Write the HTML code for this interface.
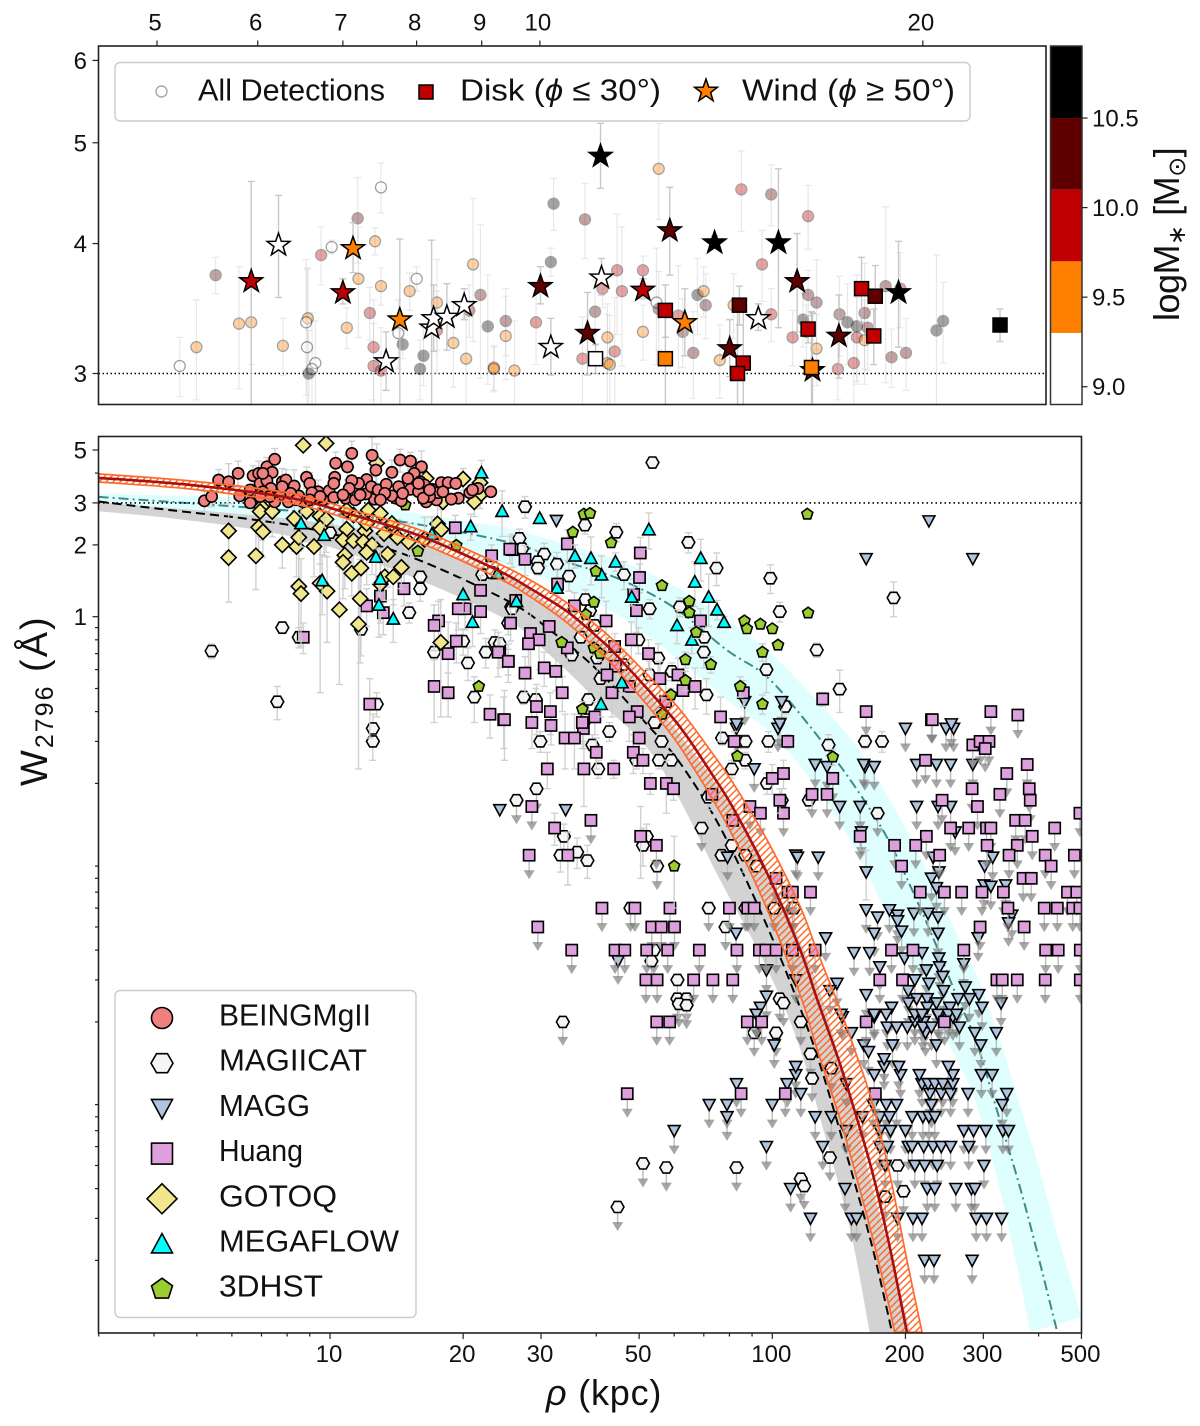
<!DOCTYPE html>
<html><head><meta charset="utf-8"><title>W2796 vs impact parameter</title>
<style>
html,body{margin:0;padding:0;background:#fff;width:1200px;height:1426px;overflow:hidden}
svg{display:block}
text{font-family:"Liberation Sans","DejaVu Sans",sans-serif;fill:#111}
</style></head>
<body>
<svg id="chart" width="1200" height="1426" viewBox="0 0 1200 1426" xmlns="http://www.w3.org/2000/svg">
<defs>
<clipPath id="clipTop"><rect x="98.5" y="46" width="947.5" height="358.5"/></clipPath>
<clipPath id="clipBot"><rect x="98.5" y="436.5" width="983" height="896.5"/></clipPath>
<pattern id="hatch" width="7" height="7" patternUnits="userSpaceOnUse"><path d="M-1 1L1 -1M0 7L7 0M6 8L8 6" stroke="#ff6a2a" stroke-width="1.5" fill="none"/></pattern>
</defs>
<g id="topPanel" clip-path="url(#clipTop)"></g>
<g id="botBack" clip-path="url(#clipBot)"></g>
<g id="botMarks" clip-path="url(#clipBot)"></g>
<g id="botFront" clip-path="url(#clipBot)"></g>
<g id="axes"></g>
<g id="cbar"></g>
<rect x="98.5" y="46" width="947.5" height="358.5" fill="none" stroke="#222" stroke-width="1.6"/>
<rect x="98.5" y="436.5" width="983" height="896.5" fill="none" stroke="#222" stroke-width="1.6"/>
<g>
<rect x="115" y="62.5" width="855" height="58.5" rx="5" fill="#fff" fill-opacity=".92" stroke="#ccc" stroke-width="1.4"/>
<circle cx="161.5" cy="91.5" r="5.5" fill="#fff" stroke="#aaa" stroke-width="1.4"/>
<text x="198" y="100.5" font-size="31" textLength="187" lengthAdjust="spacingAndGlyphs">All Detections</text>
<rect x="419" y="85" width="14" height="14" fill="#c00000" stroke="#000" stroke-width="1.5"/>
<text x="460" y="100.5" font-size="31" textLength="201" lengthAdjust="spacingAndGlyphs">Disk (<tspan font-style="italic">ϕ</tspan> ≤ 30°)</text>
<polygon id="legStar" fill="#ff8000" stroke="#000" stroke-width="1.5"/>
<text x="742" y="100.5" font-size="31" textLength="213" lengthAdjust="spacingAndGlyphs">Wind (<tspan font-style="italic">ϕ</tspan> ≥ 50°)</text>
</g>
<g id="botLegend">
<rect x="115" y="990.5" width="301" height="327" rx="5" fill="#fff" fill-opacity=".92" stroke="#ccc" stroke-width="1.4"/>
</g>
<text x="546" y="1405" font-size="36" letter-spacing=".8"><tspan font-style="italic">ρ</tspan> (kpc)</text>
<text transform="translate(47 786) rotate(-90)" font-size="38" letter-spacing="2">W<tspan font-size="25" dy="6">2796</tspan><tspan dy="-6"> (Å)</tspan></text>
<text transform="translate(1179 321) rotate(-90)" font-size="36" letter-spacing="-.5">logM<tspan font-size="24" dy="6">∗</tspan><tspan dy="-6"> [M</tspan><tspan font-size="24" dy="6">⊙</tspan><tspan dy="-6">]</tspan></text>
</svg>
<script>
/* ---------- top panel data ---------- */
const detRho=[5.21,5.37,5.56,5.8,5.93,6.28,6.57,6.55,6.56,6.66,6.62,6.58,6.73,6.86,7.19,7.42,7.5,7.2,7.5,7.05,7.35,7.4,7.4,7.5,7.74,7.8,8,7.9,8.1,8.05,8.3,8.3,8.55,8.75,8.86,8.8,8.98,9.1,9.4,9.4,9.2,9.2,9.55,9.93,10.25,10.2,10.85,10.8,11.05,11.5,11.6,11.2,11.45,11.3,11.3,11.35,12.05,12.05,12.4,12.35,12.4,12.85,12.95,13.2,13.3,13.45,13.5,13.85,14.2,14.4,15.2,14.95,15.2,15.8,16.1,16.2,16.25,16.25,16.5,16.5,17.15,17.2,17.45,17.65,17.75,17.75,18,18.1,18,18.7,19.2,18.9,19.4,20.5,20.75];
const detW=[3.05,3.18,3.73,3.35,3.36,3.19,3.39,3.36,3.18,3.07,3.03,3.0,3.9,3.97,4.23,4.02,4.53,3.7,3.64,3.32,3.43,3.18,3.05,3.02,3.28,3.2,3.7,3.6,3.12,3.03,3.51,3.3,3.21,3.1,3.82,3.45,3.57,3.33,3.37,3.26,3.04,3.03,3.02,3.36,4.37,3.84,4.22,3.1,3.44,3.77,3.6,3.62,3.15,3.25,3.07,3.06,3.77,3.29,4.72,3.51,3.46,3.41,3.29,3.14,3.57,3.6,3.49,3.09,3.49,4.51,4.46,3.82,3.42,3.25,3.38,3.29,4.25,3.57,3.51,3.17,3.03,3.42,3.36,3.07,3.33,3.25,3.43,3.32,3.23,3.64,3.62,3.11,3.14,3.3,3.37];
const detErr=[.2,.35,.15,.45,.3,.2,.4,.5,.6,.3,.4,.3,.25,.06,.4,.12,.25,.45,.15,.15,.2,.35,.3,.3,.25,.1,.1,.15,.2,.2,.35,.3,.3,.3,.6,.2,.6,.4,.25,.3,.15,.15,.35,.3,.25,.12,.35,.3,.25,.5,.55,.15,.4,.25,.35,.35,.12,.2,.5,.45,.3,.4,.25,.3,.3,.2,.25,.25,.25,.4,.3,.3,.2,.2,.2,.2,.3,.2,.35,.25,.2,.3,.3,.3,.4,.3,.4,.3,.3,.7,.3,.2,.25,.6,.3];
const detMass=[9.1,9.5,10.3,9.5,9.5,9.5,9.5,9.1,9.1,9.1,9.1,10.7,9.9,9.1,10.3,9.5,9.1,9.5,9.5,9.5,9.9,9.9,9.9,9.9,9.1,10.7,9.1,9.5,10.7,10.7,9.5,9.9,9.5,9.5,9.5,9.9,10.3,10.7,10.3,9.5,9.5,9.5,9.5,9.9,10.7,10.7,10.3,9.9,10.3,9.9,9.9,9.9,9.9,9.5,9.5,9.5,9.9,9.5,9.5,9.1,10.3,9.9,10.3,10.3,10.7,9.5,10.3,9.5,9.5,9.9,10.3,9.9,9.9,9.9,10.7,9.9,9.9,10.3,10.3,9.5,9.9,10.3,10.7,9.9,10.7,9.9,10.3,10.3,9.5,10.3,9.9,10.3,10.3,10.7,10.7];
const windRho=[6.23,5.93,7,7.13,7.76,7.57,8.22,8.25,8.45,8.72,10.01,10.2,10.9,11.16,11.18,12.05,12.65,13.72,15.4,14.85,15.93,14.1,13,17.18,19.14,16.38];
const windW=[4,3.69,3.6,3.97,3.39,3.09,3.33,3.4,3.41,3.5,3.65,3.19,3.29,4.87,3.72,3.62,4.13,4.02,4.02,3.4,3.69,3.18,3.37,3.27,3.6,3.03];
const windErr=[.45,.9,.1,.22,.65,.2,.7,.25,.25,.12,.15,.2,.3,.35,.15,.08,.4,.05,.7,.1,.4,.2,.25,.3,.42,.4];
const windMass=[9.1,9.9,9.9,9.5,9.5,9.1,9.1,9.1,9.1,9.1,10.3,9.1,10.3,10.7,9.1,9.9,10.3,10.7,10.7,9.1,10.3,10.3,9.5,10.3,10.7,10.3];
const diskRho=[11.06,12.55,12.55,14.35,14.45,14.3,16.25,16.35,17.9,18.35,18.3,23];
const diskW=[3.1,3.1,3.45,3.49,3.07,3.0,3.31,3.04,3.62,3.56,3.26,3.34];
const diskErr=[.1,.3,.2,.15,.4,.5,.1,.4,.26,.25,.2,.12];
const diskMass=[9.1,9.5,9.9,10.3,9.9,9.9,9.9,9.5,9.9,10.3,9.9,10.7];
const topXTicks=[5,6,7,8,9,10,20];
const topYTicks=[3,4,5,6];
const cbarBounds=[8.9,9.3,9.7,10.1,10.5,10.9];
const cbarColors=['#ffffff','#ff8000','#c00000','#5f0000','#000000'];
const cbarTicks=[9.0,9.5,10.0,10.5];

/* ---------- bottom panel: fits ---------- */
const redRho=[3,4.83,8.12,11.5,16.2,24.2,28.8,34.4,40.7,44.6,57.8,64,72.3,81.5,97.3,115.7,126,142,155,169,184.5,201.5];
const redW=[3.82,3.57,3.15,2.64,2.16,1.55,1.29,1.05,.806,.684,.402,.316,.225,.158,.0842,.04,.0252,.01345,.00798,.00456,.00225,.001];
const hatchUpRho=[3,4.83,8.12,11.5,16.2,24.2,28.8,34.4,40.7,44.6,57.8,64,72.3,81.5,97.3,115.7,126,142,155,169,184.5,201.5,218];
const hatchUpW=[3.97,3.71,3.3,2.77,2.29,1.66,1.4,1.14,.897,.768,.469,.376,.276,.201,.116,.0607,.04,.0229,.01454,.00897,.00456,.00201,.001];
const hatchLowRho=[3,4.83,8.12,11.5,16.2,24.2,28.8,34.4,40.7,44.6,57.8,64,72.3,81.5,97.3,115.7,126,142,155,169,184.5,189];
const hatchLowW=[3.67,3.43,3.0,2.5,2.02,1.44,1.19,.941,.711,.598,.338,.258,.179,.12,.0595,.0259,.01555,.00791,.00447,.00244,.00124,.001];
const dashRho=[3,4.35,6.84,9.64,14.9,25.1,31.4,40.2,51.5,61.8,76.2,95.3,113.8,130,150,169,186.5];
const dashW=[3.04,2.8,2.54,2.27,1.81,1.17,.88,.598,.362,.244,.131,.055,.0247,.0122,.00493,.00221,.001];
const grayUpRho=[3,4.35,6.84,9.64,14.9,25.1,31.4,40.2,51.5,61.8,76.2,95.3,113.8,130,150,169,189,205];
const grayUpW=[3.08,2.94,2.75,2.54,2.1,1.47,1.12,.8,.493,.319,.187,.091,.0463,.0247,.0094,.00394,.00182,.001];
const grayLowRho=[3,4.35,6.84,9.64,14.9,25.1,31.4,40.2,51.5,61.8,76.2,95.3,113.8,130,150,166];
const grayLowW=[2.77,2.59,2.31,2.0,1.5,.97,.69,.447,.29,.17,.0787,.0363,.0168,.00724,.00269,.001];
const tealRho=[3,7.83,13.7,25.1,34.4,44.6,59.6,79,97.3,120,150,181.6,212,235.6,261.6,290,327,363,396,441];
const tealW=[3.18,2.8,2.54,2.06,1.69,1.45,1.1,.724,.559,.358,.207,.119,.0649,.0412,.0254,.0163,.00775,.00406,.00221,.001];
const cyanUpRho=[3,7.83,13.7,25.1,34.4,44.6,59.6,79,97.3,120,150,181.6,212,235.6,261.6,290,327,363,396,441,500];
const cyanUpW=[3.3,3.08,2.8,2.35,2.0,1.73,1.36,.97,.724,.493,.309,.179,.105,.0714,.0463,.0314,.0168,.00897,.00527,.00256,.00116];
const cyanLowRho=[3,7.83,13.7,25.1,34.4,44.6,59.6,79,97.3,120,150,181.6,212,235.6,261.6,290,327,363,383];
const cyanLowW=[3.02,2.59,2.2,1.65,1.29,1.02,.69,.447,.335,.217,.116,.0562,.0314,.0204,.0138,.00892,.00394,.00165,.001];

/* ---------- bottom panel: surveys ---------- */
const beingRho=[5.2,5.4,5.6,5.9,6.2,6.7,6.9,7.2,7.5,7.4,6.95,7.2,7.8,7.95,8.3,8.85,9.0,9.4,10.3,10.25,10.95,11.2,12.45,12.7,14.4,15.2,16.1,13.8,15.5,15,12.1,11.6,11.2,11.05,9.95,9.1,8.5,7.75,7.35,6.6,6.25,6.6,7.5,8.05,8.7,9.65,10.2,10.85,11.4,12.6,12.05,12.4,12.85,13.4,14.3,15.2,16,16.35,17,17.85,18.5,19.25,20.7,21.6,23.1,19.5,18.8,17.4,16.5,16.25,17.55,15.85,14.1,13.8,13.3,14.5,16.8,16.25,18,21,10.2,7.8,7.05,7.3,6.95,8.15,9.5,9.0,8.4,10.7,11.7,13,15.85,16.8,14.6,7.05];
const beingW=[3.06,3.19,3.74,3.68,3.99,3.9,3.99,4.25,4.57,4.03,3.62,3.72,3.68,3.74,3.53,3.84,3.62,3.34,4.4,3.84,4.25,4.84,4.75,4.12,4.54,4.49,4.25,4.03,3.99,3.8,3.76,3.62,3.72,3.45,3.37,3.31,3.21,3.24,3.45,3.4,3.21,3.0,3.03,3.03,3.03,3.09,3.16,3.14,3.09,3.11,3.27,3.51,3.4,3.59,3.51,3.42,3.68,3.57,3.42,3.65,3.65,3.62,3.31,3.45,3.34,3.14,3.11,3.09,3.03,3.29,3.31,3.34,3.14,3.21,3.29,3.06,3.19,3.14,3.34,3.4,3.62,3.51,3.34,3.19,3.19,3.29,3.19,3.09,3.09,3.24,3.24,3.09,3.62,3.4,3.29,3.99];
const beingErr=[.3,.3,.4,.7,.5,.4,.5,.4,.5,.5,.4,.4,.5,.4,.6,.4,.4,.4,.5,.5,.5,.6,.9,.5,.5,.4,.7,.5,.6,.5];
const gotoqRho=[8.7,9.8,12.75,20,21.85,21.85,21.2,7,6.95,7.4,5.9,5.9,6.8,6.9,7.05,7.8,8.3,8.4,8.5,9.2,8.85,9.5,9.8,9.5,10.9,10.7,11.3,12,11.9,12.45,12.1,10.8,10.7,13.5,13.25,14.2,15.05,16.35,17.5,17.85,11.2,11.75,13,13.3,13.9,14.5,11.7,11.6,10.5,9.85,9.5,8.5,8.6,17.8,12.2,13,13.8,11.3,12.1,10.9,16.5,18];
const gotoqW=[5.23,5.33,4.4,3.78,3.65,3.24,3.03,2.89,2.76,2.76,2.29,1.77,1.8,2.37,2.27,2.0,2.58,1.97,2.15,1.97,2.76,2.64,2.56,2.36,2.33,2.1,2.08,2.29,2.06,2.0,1.86,1.81,1.69,1.83,2.23,2.15,2.06,2.11,2.45,2.32,1.52,1.6,1.37,1.47,1.47,1.61,1.19,.93,1.07,1.28,1.38,1.34,1.25,.78,2.8,2.71,2.46,2.67,2.46,2.8,3.8,3.03];
const gotoqErr=[0,0,.9,.4,.5,.4,.4,.8,.6,.6,.4,.62,.5,.5,.5,.4,.7,.5,.8,.5,.7,.5,.7,.7,.5,.5,.6,.5,.5,.5,.5,.5,.5,.5,.5,.4,.4,.5,.5,.5,.3,.35,.4,.3,.35,.3,.55,.7,.55,.5,.9,.55,.5,.4];
const huangRho=[25.8,27.6,34.4,50.3,50.1,32.7,48.6,26.3,35.7,49.3,42.1,68.8,25.6,31.3,28.4,29.7,28.1,34.4,48,44,52.5,44.2,42.3,55.7,61.2,47.5,66.9,62.8,43.4,57.4,49.5,47.5,39.7,76.4,25.3,24.2,27.6,30.5,32.4,33.5,29.3,31.5,24.7,28.6,31.6,37.4,86,19.2,23.2,21.9,21.9,20.2,19.5,17.6,17.2,19.3,18.5,24,25.3,17.2,18.5,23,24.8,14.7,13,12.1,13.2,8.7,12.3,25.5,34,35.7,37.2,40,50,48.5,51,31,37.5,43.8,53,57.6,59.8,32.2,50.4,34.5,82,100,106,108.4,104,73,81.4,130];
const huangW=[1.91,1.74,2.02,1.85,1.46,1.37,1.24,1.17,1.11,1.06,.96,.96,.94,.91,.85,.8,.77,.74,.8,.75,.7,.62,.57,.55,.57,.51,.51,.49,.48,.44,.4,.38,.38,.38,.65,.71,.58,.61,.59,.48,.42,.4,.37,.36,.35,.34,.48,2.36,1.8,1.29,1.05,1.08,1.08,.96,.92,.79,.7,.71,.65,.51,.48,.39,.37,1.31,1.22,1.11,1.04,.82,.43,1.92,.31,.31,.36,.27,.31,.27,.25,.23,.23,.23,.2,.2,.19,.13,.12,.1,.3,.21,.22,.3,.17,.18,.14,.452];
const huangErr=[.3,.25,.3,.3,.2,.2,.2,.2,.15,.2,.2,.12,.15,.2,.3,.2,.15,.1,.15,.1,.1,.1,.1,.1,.1,.1,.1,.1,.1,.1,.08,.08,.06,.08,.08,.1,.1,.1,.1,.08,.1,.08,.09,.08,.06,.06,.06,.3,.2,.2,.2,.2,.2,.2,.2,.15,.25,.15,.12,.15,.1,.08,.12,.2,.2,.2,.2,.12,.12,.25,.08,.08,.08,.04,.06,.05,.03,.04,.07,.02,.02,.05,.02,.02,.04,.025,.03,.03,.03,.02,.02,.02,.02,.03];
const huangLimRho=[28.6,38.9,54.7,28.2,41.2,48.9,58.7,80,88,91,29.5,53.4,56.1,60.1,35.2,44.1,46.4,52,58,68.4,83.2,93.5,96.7,102,51.8,54.9,66.4,73.4,81.4,89,94,106,102,108.5,111,229,284,295,309,303,222,377,339,137,283,327,381,383,123,133,242,291,496,253,278,305,312,355,373,435,158,223,387,189,211,306,358,239,343,414,482,196,427,369,385,111,122,216,245,268,298,333,465,488,341,412,441,478,496,295,371,125,186,208,271,415,443,497,175,197,322,331,358,414,497,163,245,54.8,58.6,87.8,94.6,47,85,107,171,163,230,312,359];
const huangLimW=[.16,.14,.11,.1,.06,.06,.06,.06,.06,.06,.05,.05,.05,.05,.04,.04,.04,.04,.04,.04,.04,.04,.04,.04,.03,.03,.03,.03,.03,.16,.15,.15,.08,.07,.04,.37,.29,.3,.3,.28,.25,.24,.22,.21,.19,.18,.19,.17,.18,.18,.17,.16,.15,.13,.13,.13,.13,.14,.14,.13,.12,.12,.12,.11,.11,.11,.11,.1,.1,.1,.1,.09,.09,.08,.08,.07,.07,.07,.07,.07,.07,.07,.07,.07,.06,.06,.06,.06,.06,.05,.05,.04,.04,.04,.04,.04,.04,.04,.03,.03,.03,.03,.03,.03,.03,.02,.02,.02,.02,.02,.02,.01,.01,.01,.01,.4,.37,.4,.387];
const magiRho=[5.4,7.8,7.6,10,11.75,12.5,16,16,15.1,17.2,20,23.6,22.5,20.5,21.2,22.1,23.2,25.3,25.7,12.75,8.5,12.5,53.6,27.6,37.7,44.4,64.6,26.8,27.2,30.5,29.5,29.5,32.6,34.7,46.2,74.8,99,104,61.8,52.8,37.8,25.8,38.7,39.7,36.9,70.2,70,55.2,40.2,35.2,40.9,97,71,107,54.5,37.8,38.4,27.4,29.2,52.8,59.3,24.2,49.8,46,29.9,39.2,42.8,54.2,56.2,49.3,55.4,59.1,40.4,33.8,33.2,36.2,38.2,52,51,81,76.8,86.9,92.1,71.6,77,84,87,98,86.8,81,97.3,105,134,162,177,121,126,142,188];
const magiW=[.718,.9,.44,2.25,.885,.34,1.47,1.31,1.04,.71,.79,.78,.71,.64,.46,1.5,1.53,.94,1.1,.43,.82,.3,4.43,2.89,2.42,2.26,2.05,2.13,1.93,1.83,1.7,1.6,1.66,1.48,1.5,1.6,1.45,1.05,1.1,1.08,1.18,1.08,1.06,.92,.82,.82,.71,.67,.67,.69,.55,.6,.47,.42,.36,.37,.45,.46,.45,.57,.59,.77,.8,.63,.3,.29,.33,.36,.3,.25,.25,.25,.23,.12,.1,.103,.095,.12,.11,.11,.1,.1,.09,.175,.31,.3,.3,.3,.25,.23,.2,.17,.29,.3,.3,.17,.725,.497,1.2];
const magiErr=[.05,.05,.07,.2,.2,.05,.2,.15,.1,.2,.1,.1,.1,.1,.1,.1,.1,.1,.1,.05,.08,.05,0,.3,.2,.2,.2,.2,.2,.2,.2,.1,.2,.2,.2,.25,.2,.1,.1,.1,.12,.1,.1,.1,.1,.1,.1,.1,.1,.1,.1,.12,.08,.03,.02,.05,.05,.03,.05,.08,.05,.05,.1,.1,.03,.03,.03,.02,.03,.02,.02,.02,.02,.015,.015,.015,.015,.015,.02,.02,.015,.015,.015,.02,.02,.02,.02,.03,.02,.02,.02,.02,.03,.02,.03,.015,.05,.1,.2];
const magiLimRho=[29.3,26.4,54.9,69.2,71.8,87,101,111,47.8,78.4,53.3,54,61,61,64,104,173,112,33.6,61.5,64,106,91,102,116,122,123,136,51,57.6,83,44.7,135,116,118,192,198,180];
const magiLimW=[.19,.17,.09,.13,.06,.06,.06,.06,.06,.05,.036,.04,.03,.025,.025,.025,.15,.06,.02,.0238,.0235,.024,.018,.018,.02,.0147,.0116,.0128,.0051,.0049,.0049,.00335,.0054,.0044,.0041,.005,.0039,.0037];
const maggRho=[32.5,226,163,284,24.2,34.1,163];
const maggW=[2.53,2.52,1.75,1.75,.155,.155,.085];
const maggErr=[0,0,0,0,0,0,.02];
const maggLimRho=[200,247,257,86.6,105,83,103,83,104,91,113,79.2,82.8,44.8,97,97,92,94,113,254,125,133,162,161,170,212,235,253,284,142,158,212,237,253,259,159,114,127,231,315,302,238,229,235,301,312,337,163,173,184,192,192,209,225,237,348,342,196,237,170,292,132,153,166,175,199,218,238,271,223,239,243,210,226,273,203,244,293,140,135,163,263,279,212,224,235,203,329,186,224,170,298,252,144,238,256,210,220,221,232,283,122,151,155,192,208,218,289,305,330,110,146,224,233,260,282,287,180,210,221,236,301,97,130,175,182,203,207,220,231,241,253,278,60,147,175,185,200,271,285,304,332,342,79,125,136,160,175,184,207,219,226,233,72,79,100,169,181,191,229,331,116,227,241,253,277,339,83,108,147,218,225,233,243,256,113,170,195,215,297,314,256,113,179,193,250,179,101,161,187,235,296,165,151,222,287,321,182,191,202,219,229,265,92,143,170,181,210,218,237,250,261];
const maggLimW=[.34,.34,.34,.44,.44,.34,.34,.355,.355,.23,.1,.098,.047,.036,.033,.0256,.0215,.023,.03,.355,.24,.235,.235,.24,.235,.24,.24,.24,.24,.16,.16,.16,.16,.16,.125,.125,.098,.098,.098,.098,.09,.085,.08,.073,.075,.074,.075,.059,.055,.059,.056,.053,.057,.057,.055,.056,.052,.048,.047,.047,.045,.045,.039,.039,.034,.037,.039,.037,.035,.033,.034,.031,.03,.029,.028,.027,.027,.026,.029,.027,.026,.025,.025,.025,.025,.024,.024,.024,.023,.023,.021,.023,.023,.021,.021,.021,.02,.02,.002,.002,.002,.003,.003,.003,.003,.003,.003,.003,.003,.003,.004,.004,.004,.004,.004,.004,.004,.005,.005,.005,.005,.005,.006,.006,.006,.006,.006,.006,.006,.006,.006,.006,.006,.007,.007,.007,.007,.007,.007,.007,.007,.007,.007,.008,.008,.008,.008,.008,.008,.008,.008,.008,.008,.009,.009,.009,.009,.009,.009,.009,.009,.01,.01,.01,.01,.01,.01,.011,.011,.011,.011,.011,.011,.011,.011,.012,.012,.012,.012,.012,.012,.012,.013,.013,.013,.013,.014,.016,.016,.016,.016,.016,.015,.018,.018,.018,.018,.019,.019,.019,.019,.019,.019,.0215,.0215,.0215,.0215,.0215,.0215,.0215,.0215,.0215];
const megaRho=[22,8.6,9.7,24.5,20.8,17,12.7,13,12.9,13.9,9.6,20,21,23.9,29.8,35.8,38.9,52.6,68.9,44.2,41.1,66.8,71.8,75,77.8,60.9,65.8,32.6,48.1,26.4,45.7,41];
const megaW=[4.02,2.46,2.2,2.77,2.39,2.22,1.78,1.44,1.12,.98,1.42,1.24,.95,1.52,2.59,1.8,1.76,2.32,1.76,1.7,1.5,1.4,1.21,1.07,.95,.92,.8,1.32,1.21,1.16,.53,.43];
const megaErr=[.5,.5,.4,.6,.3,.4,.4,.5,.3,.2,.4,.2,.2,.2,.1,.2,.4,.4,.35,.15,.3,.3,.3,.1,.05,.15,.1,.1,.1,.05,.05,.05];
const hstRho=[14.8,19.3,15.8,21.7,37.5,38.7,35.4,43.2,39.9,56.3,39.5,37.9,64.9,64.9,67.3,86.5,87.6,94,100,103,95,63.6,72.6,84.6,95,63.6,59,33.4,39.5,40.8,37.2,56.4,120,120.5,83.4,60,137];
const hstW=[2.94,1.99,1.88,.51,2.69,2.71,2.26,2.04,1.55,1.35,1.15,1.02,1.16,1.04,.86,.96,.89,.93,.89,.76,.71,.66,.63,.51,.43,.54,.47,.78,.74,.7,.41,.39,2.69,1.036,.26,.09,.258];
const hstErr=[0,0,0,0,0,0,0,0,0,0,0,0,0,0,.05,0,0,0,0,0,.06,.05,.05,.05,.04,.05,.03,0,.05,.05,0,.03,0,0,0,.03,.02];
const legendLabels=['BEINGMgII','MAGIICAT','MAGG','Huang','GOTOQ','MEGAFLOW','3DHST'];
const legendWidths=[152,148,91,84,118,180,104];
const xMajorTicks=[10,20,30,50,100,200,300,500];
const xMinorTicks=[3,4,5,6,7,8,9,40,60,70,80,90,400];
const yMajorTicks=[1,2,3,5];
const yMinorTicks=[4,.9,.8,.7,.6,.5,.4,.3,.2,.09,.08,.07,.06,.05,.04,.03,.02,.009,.008,.007,.006,.005,.004,.003,.002];

/* ---------- scales ---------- */
const NS='http://www.w3.org/2000/svg';
function sx(r){return 330+442.3*(Math.log10(r)-1);}
function sy(w){return 616.7-238.5*Math.log10(w);}
function tx(r){return 157+1272*Math.log10(r/5);}
function ty(w){return 373.5-1040*Math.log10(w/3);}
function cbY(v){return 386.7-(v-9)*179.1;}
function massColor(m){for(let i=0;i<cbarColors.length;i++){if(m<cbarBounds[i+1])return cbarColors[i];}return cbarColors[cbarColors.length-1];}
function mk(tag,attrs,parent,name,inter){
  const el=document.createElementNS(NS,tag);
  for(const k in attrs)el.setAttribute(k,attrs[k]);
  
  
  parent.appendChild(el);
  return el;
}
function starPts(cx,cy0,R){const p=[];for(let i=0;i<10;i++){const r=i%2?R*.4:R;const a=-Math.PI/2+i*Math.PI/5;p.push((cx+r*Math.cos(a)).toFixed(1)+','+(cy0+r*Math.sin(a)).toFixed(1));}return p.join(' ');}
function ngon(cx,cy0,r,n,start){const p=[];for(let i=0;i<n;i++){const a=start+i*2*Math.PI/n;p.push((cx+r*Math.cos(a)).toFixed(1)+','+(cy0+r*Math.sin(a)).toFixed(1));}return p.join(' ');}
function drawShape(kind,x,y,s,g,name,inter){
  const base={stroke:'#000','stroke-width':1.6};
  if(kind==='circle')return mk('circle',Object.assign({cx:x,cy:y,r:s,fill:'#f08080'},base),g,name,inter);
  if(kind==='hex')return mk('polygon',Object.assign({points:ngon(x,y,s,6,0),fill:'#f5f5f5'},base),g,name,inter);
  if(kind==='tdown')return mk('polygon',Object.assign({points:[x-s,y-s*.85,x+s,y-s*.85,x,y+s].join(' '),fill:'#b0c4de'},base),g,name,inter);
  if(kind==='square')return mk('rect',Object.assign({x:x-s,y:y-s,width:2*s,height:2*s,fill:'#dda0dd'},base),g,name,inter);
  if(kind==='diamond')return mk('polygon',Object.assign({points:ngon(x,y,s,4,0),fill:'#f0e68c'},base),g,name,inter);
  if(kind==='tup')return mk('polygon',Object.assign({points:[x-s,y+s*.85,x+s,y+s*.85,x,y-s].join(' '),fill:'#00ffff'},base),g,name,inter);
  return mk('polygon',Object.assign({points:ngon(x,y,s,5,-Math.PI/2),fill:'#9acd32'},base),g,name,inter);
}
function smoothD(xs,ys,start){
  const p=xs.map((r,i)=>[sx(r),sy(ys[i])]);
  let d=start+p[0][0].toFixed(1)+' '+p[0][1].toFixed(1);
  for(let i=0;i<p.length-1;i++){
    const a=p[i-1]||p[i],b=p[i],c=p[i+1],e=p[i+2]||p[i+1];
    const c1x=b[0]+(c[0]-a[0])/6,c1y=b[1]+(c[1]-a[1])/6,c2x=c[0]-(e[0]-b[0])/6,c2y=c[1]-(e[1]-b[1])/6;
    d+='C'+[c1x,c1y,c2x,c2y,c[0],c[1]].map(v=>v.toFixed(1)).join(' ');
  }
  return d;
}
function bandD(upX,upY,lowX,lowY){
  return smoothD(upX,upY,'M')+smoothD(lowX.slice().reverse(),lowY.slice().reverse(),'L')+'Z';
}
function errBar(g,x,yHi,yLo,color,w,opacity,name){
  mk('path',{d:`M${x} ${yHi}V${yLo}M${x-3.5} ${yHi}h7M${x-3.5} ${yLo}h7`,stroke:color,'stroke-width':w,fill:'none',opacity:opacity},g,name,false);
}

/* ---------- top panel ---------- */
const topLayer=document.getElementById('topPanel');
mk('line',{x1:98.5,x2:1046,y1:ty(3),y2:ty(3),stroke:'#000','stroke-width':1.4,'stroke-dasharray':'1.5 2.5'},topLayer,'w-equals-3-reference-line',false);
detRho.forEach((r,i)=>{
  const e=detErr[i];
  errBar(topLayer,tx(r),ty(detW[i]+e),ty(Math.max(detW[i]-e,2.5)),'#ccc',1.2,.45,'detection-error-bar');
});
detRho.forEach((r,i)=>{
  mk('circle',{cx:tx(r),cy:ty(detW[i]),r:5.5,fill:massColor(detMass[i]),stroke:'#000','stroke-width':1.3,opacity:.36},topLayer,'detection-point',false);
});
windRho.forEach((r,i)=>{errBar(topLayer,tx(r),ty(windW[i]+windErr[i]),ty(Math.max(windW[i]-windErr[i],2.5)),'#bbb',1.4,.8,'wind-error-bar');});
diskRho.forEach((r,i)=>{errBar(topLayer,tx(r),ty(diskW[i]+diskErr[i]),ty(Math.max(diskW[i]-diskErr[i],2.5)),'#bbb',1.4,.8,'disk-error-bar');});
windRho.forEach((r,i)=>{
  mk('polygon',{points:starPts(tx(r),ty(windW[i])+1.5,12),fill:massColor(windMass[i]),stroke:'#000','stroke-width':1.5},topLayer,'wind-star',false);
});
diskRho.forEach((r,i)=>{
  const x=tx(r),y=ty(diskW[i]);
  mk('rect',{x:x-7,y:y-7,width:14,height:14,fill:massColor(diskMass[i]),stroke:'#000','stroke-width':1.5},topLayer,'disk-square',false);
});
document.getElementById('legStar').setAttribute('points',starPts(706,91,12));

/* ---------- bottom: bands ---------- */
const backLayer=document.getElementById('botBack');
mk('path',{d:bandD(grayUpRho,grayUpW,grayLowRho,grayLowW),fill:'#d3d3d3'},backLayer,'combined-fit-gray-band',false);
mk('path',{d:bandD(cyanUpRho,cyanUpW,cyanLowRho,cyanLowW),fill:'#dfffff'},backLayer,'cyan-fit-band',false);
mk('path',{d:smoothD(dashRho,dashW,'M'),fill:'none',stroke:'#000','stroke-width':2,'stroke-dasharray':'9 5'},backLayer,'combined-fit-dashed-line',false);
mk('path',{d:smoothD(tealRho,tealW,'M'),fill:'none',stroke:'#3f8a8c','stroke-width':2,'stroke-dasharray':'10 4 2 4'},backLayer,'teal-fit-dashdot-line',false);
mk('line',{x1:98.5,x2:1081.5,y1:sy(3),y2:sy(3),stroke:'#000','stroke-width':1.6,'stroke-dasharray':'1.5 3'},backLayer,'w-equals-3-reference-line',false);

/* ---------- bottom: markers ---------- */
const markLayer=document.getElementById('botMarks');
function drawDetections(rho,w,err,kind,s,name){
  rho.forEach((r,i)=>{
    const e=err&&err[i];
    if(e){errBar(markLayer,sx(r),sy(w[i]+e),w[i]-e>0?sy(w[i]-e):1333,'#ccc',1.4,.9,name+'-error-bar');}
  });
  rho.forEach((r,i)=>{drawShape(kind,sx(r),sy(w[i]),s,markLayer,name+'-marker',false);});
}
function drawLimits(rho,w,kind,s,name){
  rho.forEach((r,i)=>{
    const x=sx(r),y=sy(w[i]);
    mk('line',{x1:x,x2:x,y1:y,y2:y+17,stroke:'#bbb','stroke-width':1.4},markLayer,name+'-limit-stem',false);
    mk('polygon',{points:[x-5.5,y+15,x+5.5,y+15,x,y+24].join(' '),fill:'#777',opacity:.65},markLayer,name+'-limit-arrow',false);
  });
  rho.forEach((r,i)=>{drawShape(kind,sx(r),sy(w[i]),s,markLayer,name+'-limit-marker',false);});
}
drawLimits(magiLimRho,magiLimW,'hex',6.4,'magiicat');
drawDetections(magiRho,magiW,magiErr,'hex',6.4,'magiicat');
drawLimits(maggLimRho,maggLimW,'tdown',6,'magg');
drawDetections(maggRho,maggW,maggErr,'tdown',6,'magg');
drawLimits(huangLimRho,huangLimW,'square',5.6,'huang');
drawDetections(huangRho,huangW,huangErr,'square',5.6,'huang');
drawDetections(gotoqRho,gotoqW,gotoqErr,'diamond',7.6,'gotoq');
drawDetections(megaRho,megaW,megaErr,'tup',6.2,'megaflow');
drawDetections(hstRho,hstW,hstErr,'pent',5.8,'3dhst');
drawDetections(beingRho,beingW,beingErr,'circle',5.6,'beingmgii');

/* ---------- bottom: foreground fit ---------- */
const frontLayer=document.getElementById('botFront');
mk('path',{d:bandD(hatchUpRho,hatchUpW,hatchLowRho,hatchLowW),fill:'url(#hatch)',stroke:'#ff6a2a','stroke-width':1.7},frontLayer,'beingmgii-fit-hatched-band',false);
mk('path',{d:smoothD(redRho,redW,'M'),fill:'none',stroke:'#a81010','stroke-width':2.6},frontLayer,'beingmgii-fit-line',false);

/* ---------- axes ---------- */
const axesLayer=document.getElementById('axes');
function tick(x1,y1,x2,y2,name){mk('line',{x1:x1,y1:y1,x2:x2,y2:y2,stroke:'#222','stroke-width':1.2},axesLayer,name,false);}
function tickLabel(str,x,y,anchor,name){const t=mk('text',{x:x,y:y,'font-size':24,'text-anchor':anchor},axesLayer,name,false);t.textContent=str;}
topXTicks.forEach(v=>{tick(tx(v),46,tx(v),40.5,'top-x-tick');tickLabel(String(v),tx(v)-2,30.5,'middle','top-x-tick-label');});
topYTicks.forEach(v=>{tick(98.5,ty(v),92.5,ty(v),'top-y-tick');tickLabel(String(v),87,ty(v)+8.5,'end','top-y-tick-label');});
xMajorTicks.forEach(v=>{tick(sx(v),1333,sx(v),1339,'x-major-tick');tickLabel(String(v),sx(v)-1,1362,'middle','x-tick-label');});
xMinorTicks.forEach(v=>{tick(sx(v),1333,sx(v),1336.5,'x-minor-tick');});
yMajorTicks.forEach(v=>{tick(98.5,sy(v),92.5,sy(v),'y-major-tick');tickLabel(String(v),87,sy(v)+8.5,'end','y-tick-label');});
yMinorTicks.forEach(v=>{tick(98.5,sy(v),95,sy(v),'y-minor-tick');});

/* ---------- colorbar ---------- */
const cbLayer=document.getElementById('cbar');
cbarColors.forEach((c,i)=>{
  mk('rect',{x:1050.5,y:cbY(cbarBounds[i+1]),width:31.5,height:cbY(cbarBounds[i])-cbY(cbarBounds[i+1]),fill:c},cbLayer,'colorbar-band',false);
});
mk('rect',{x:1050.5,y:46,width:31.5,height:358.5,fill:'none',stroke:'#333','stroke-width':1.5},cbLayer,'colorbar-frame',false);
cbarTicks.forEach(v=>{
  mk('line',{x1:1082,x2:1087.5,y1:cbY(v),y2:cbY(v),stroke:'#222','stroke-width':1.2},cbLayer,'colorbar-tick',false);
  const t=mk('text',{x:1092,y:cbY(v)+8.5,'font-size':24},cbLayer,'colorbar-tick-label',false);
  t.textContent=v.toFixed(1);
});

/* ---------- survey legend ---------- */
const legendLayer=document.getElementById('botLegend');
const legendKinds=['circle','hex','tdown','square','diamond','tup','pent'];
const legendSizes=[10.5,11,10.5,10.5,15,10.5,11];
legendLabels.forEach((s,i)=>{
  const yc=1018+45.2*i;
  drawShape(legendKinds[i],162,yc,legendSizes[i],legendLayer,'legend-marker-'+s.toLowerCase(),false);
  const t=mk('text',{x:219,y:1025.5+45.2*i,'font-size':31,textLength:legendWidths[i],lengthAdjust:'spacingAndGlyphs'},legendLayer,'legend-label-'+s.toLowerCase(),false);
  t.textContent=s;
});
</script>
</body></html>
